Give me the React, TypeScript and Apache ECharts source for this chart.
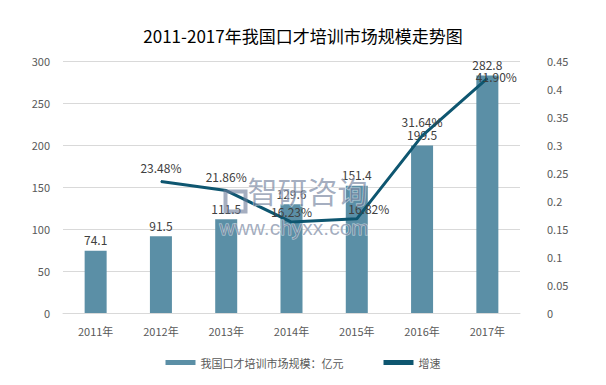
import React, { useEffect, useRef } from "react";
import * as echarts from "echarts";

const categories = ["2011年", "2012年", "2013年", "2014年", "2015年", "2016年", "2017年"];
const marketSize = [74.1, 91.5, 111.5, 129.6, 151.4, 199.5, 282.8];
const growth: (number | null)[] = [null, 0.2348, 0.2186, 0.1623, 0.1682, 0.3164, 0.419];
const growthLabels = ["", "23.48%", "21.86%", "16.23%", "16.82%", "31.64%", "41.90%"];

const FONT = "'Noto Sans CJK SC', 'Microsoft YaHei', sans-serif";
const WM = "rgba(105,120,150,0.6)";

export default function App() {
  const ref = useRef<HTMLDivElement>(null);
  useEffect(() => {
    if (!ref.current) return;
    const chart = echarts.init(ref.current, undefined, { renderer: "svg" });
    const labelOffsets: Record<number, number[]> = {
      3: [0, 4],
      4: [12, 4],
      6: [9, 13],
    };
    chart.setOption({
      animation: false,
      textStyle: { fontFamily: FONT },
      title: {
        text: "2011-2017年我国口才培训市场规模走势图",
        left: "center",
        top: 22,
        textStyle: { fontSize: 17, fontWeight: "normal", color: "#000", fontFamily: FONT },
      },
      grid: { left: 63, right: 86, top: 61, bottom: 72 },
      legend: {
        bottom: 12,
        left: "center",
        itemGap: 40,
        textStyle: { fontSize: 11, color: "#595959", fontFamily: FONT },
        data: [
          { name: "我国口才培训市场规模：亿元", icon: "rect" },
          { name: "增速", icon: "rect" },
        ],
        itemWidth: 30,
        itemHeight: 5,
      },
      graphic: [
        {
          type: "rect",
          left: 223,
          top: 189,
          z: 100,
          shape: { width: 20, height: 20 },
          style: { fill: "none", stroke: WM, lineWidth: 4 },
        },
        {
          type: "text",
          left: 247,
          top: 174,
          z: 100,
          style: { text: "智研咨询", fontSize: 30, fill: WM, stroke: "rgba(255,255,255,0.6)", lineWidth: 1, fontFamily: FONT },
        },
        {
          type: "text",
          left: 219,
          top: 216,
          z: 100,
          style: { text: "www.chyxx.com", fontSize: 21, fill: WM, stroke: "rgba(255,255,255,0.6)", lineWidth: 1, fontFamily: "'Liberation Sans', Arial, sans-serif" },
        },
      ],
      xAxis: {
        type: "category",
        data: categories,
        axisLine: { lineStyle: { color: "#d9d9d9" } },
        axisTick: { show: false },
        axisLabel: { color: "#595959", fontSize: 11, margin: 12 },
      },
      yAxis: [
        {
          type: "value",
          min: 0,
          max: 300,
          interval: 50,
          axisLine: { show: false },
          axisTick: { show: false },
          axisLabel: { color: "#595959", fontSize: 11, margin: 13 },
          splitLine: { lineStyle: { color: "#d9d9d9" } },
        },
        {
          type: "value",
          min: 0,
          max: 0.45,
          interval: 0.05,
          axisLine: { show: false },
          axisTick: { show: false },
          axisLabel: { color: "#595959", fontSize: 11, margin: 27 },
          splitLine: { show: false },
        },
      ],
      series: [
        {
          name: "我国口才培训市场规模：亿元",
          type: "bar",
          data: marketSize,
          barWidth: 22,
          itemStyle: { color: "#5b8fa6" },
          label: { show: true, position: "top", color: "#404040", fontSize: 12, distance: 5 },
        },
        {
          name: "增速",
          type: "line",
          yAxisIndex: 1,
          data: growth.map((v, i) =>
            v === null
              ? null
              : labelOffsets[i]
              ? { value: v, label: { offset: labelOffsets[i] } }
              : { value: v }
          ),
          symbol: "circle",
          symbolSize: 1,
          showSymbol: true,
          lineStyle: { color: "#0e5670", width: 3 },
          itemStyle: { color: "#0e5670" },
          label: {
            show: true,
            position: "top",
            color: "#404040",
            fontSize: 12,
            distance: 8,
            formatter: (p: any) => growthLabels[p.dataIndex],
          },
        },
      ],
    });
    return () => chart.dispose();
  }, []);
  return (
    <div
      ref={ref}
      style={{ position: "absolute", left: 0, top: 0, width: 606, height: 385, background: "#fff" }}
    />
  );
}
